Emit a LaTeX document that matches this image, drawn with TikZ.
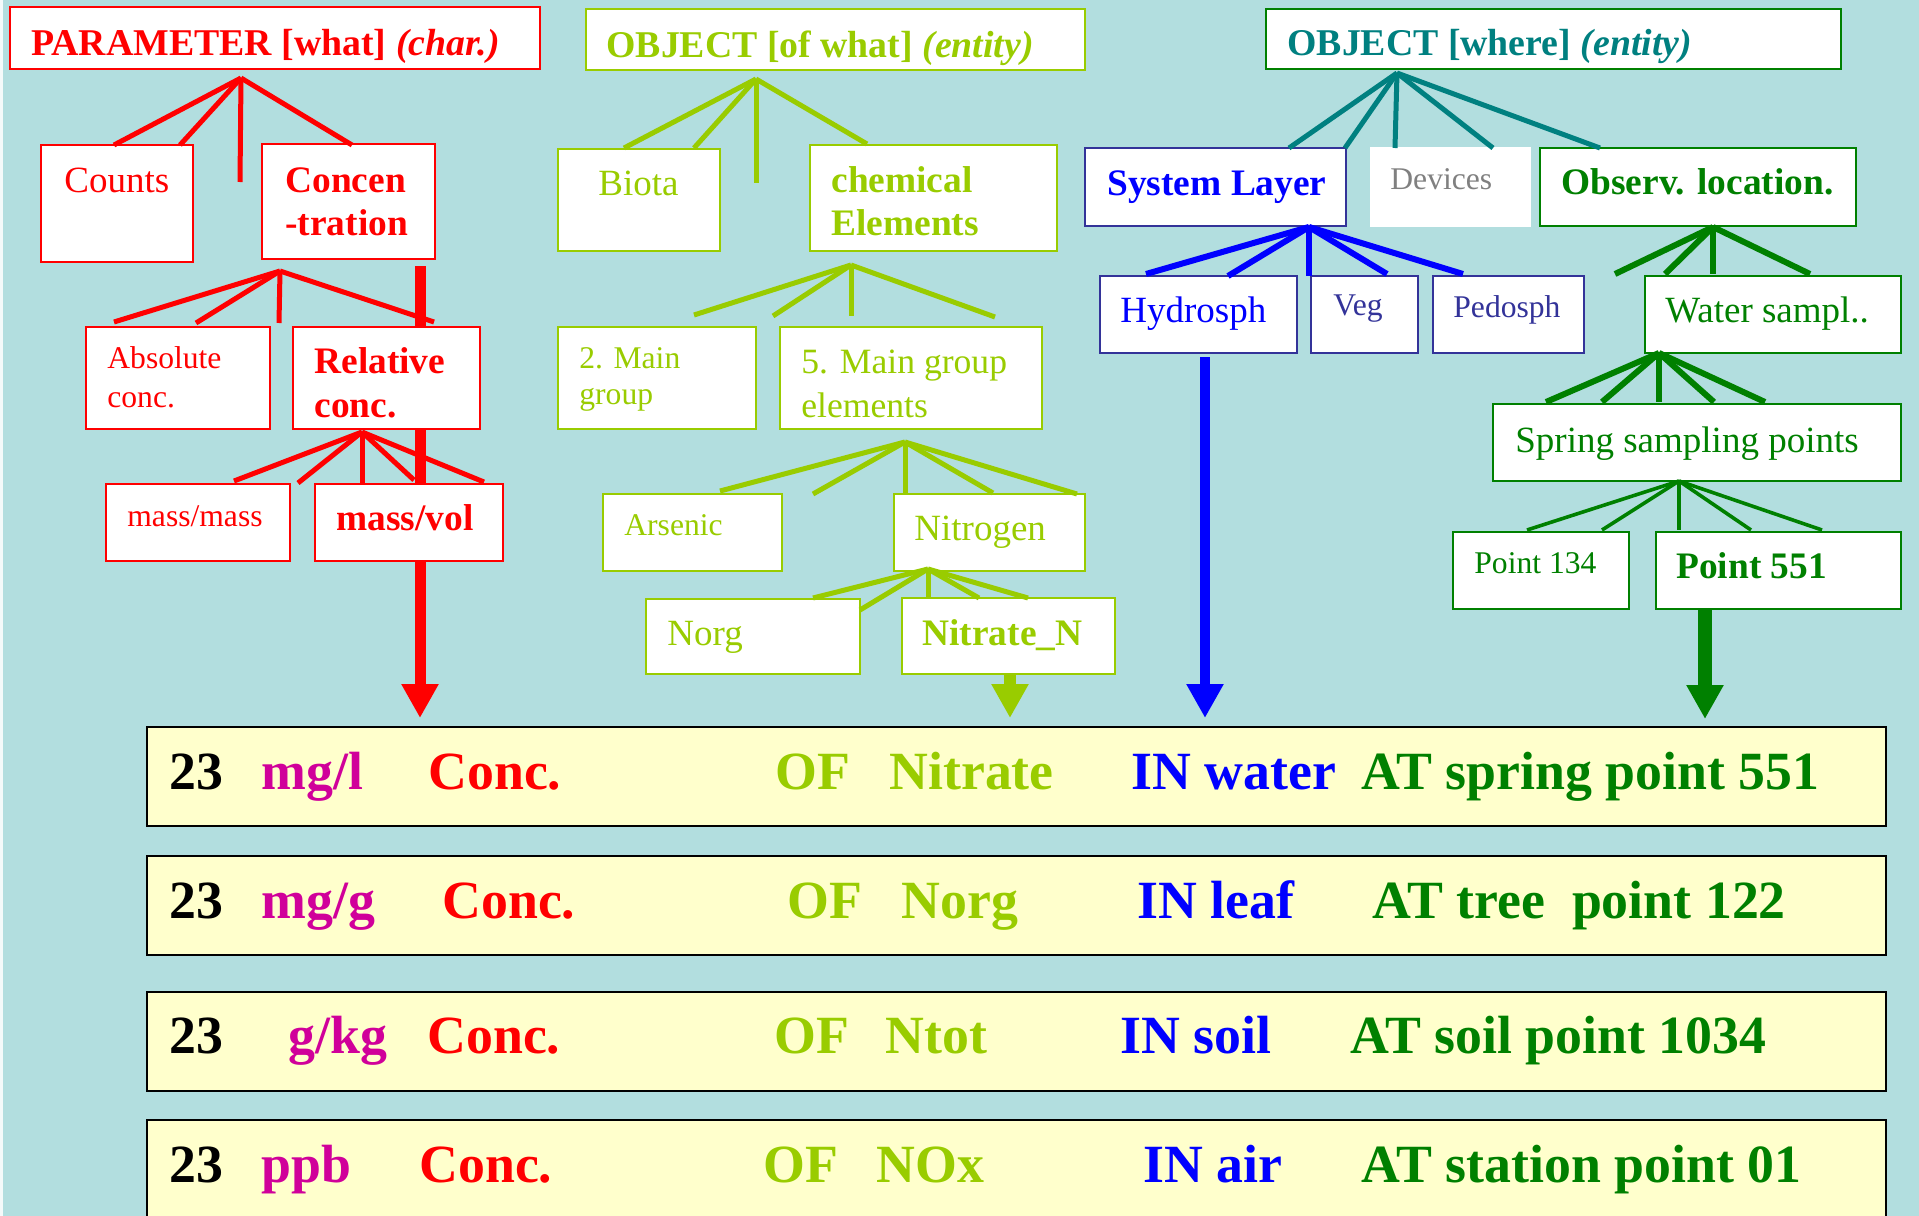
\documentclass[tikz,border=0pt]{standalone}
\usepackage{fontspec}
\setmainfont{Liberation Serif}
\usetikzlibrary{arrows.meta,fit}

\definecolor{bgcyan}{HTML}{B2DEDF}
\definecolor{lime}{HTML}{99CC00}
\definecolor{tealw}{HTML}{008080}
\definecolor{navyb}{HTML}{333399}
\definecolor{greenw}{HTML}{008000}
\definecolor{unitmag}{HTML}{D0009A}
\definecolor{rowfill}{HTML}{FFFFCC}
\definecolor{devgray}{HTML}{808080}

\tikzset{
  box/.style={draw, fill=white, line width=1pt, inner sep=0pt},
  big/.style={font=\fontsize{18.5}{22}\selectfont, anchor=base west, inner sep=0pt},
  bigb/.style={font=\fontsize{18.7}{22}\selectfont\bfseries, anchor=base west, inner sep=0pt},
  head/.style={font=\fontsize{18.9}{22}\selectfont\bfseries, anchor=base west, inner sep=0pt},
  small/.style={font=\fontsize{15.8}{19}\selectfont, anchor=base west, inner sep=0pt},
  rowtxt/.style={font=\fontsize{26.9}{30}\selectfont\bfseries, anchor=base west, inner sep=0pt},
  fanline/.style={line width=2.5pt},
  bigarrow/.style={line width=5.5pt, -{Triangle[width=17.5pt,length=17pt]}},
  rowbox/.style={draw=black, fill=rowfill, line width=1.2pt, inner sep=0pt},
}

% a fan of straight lines from one apex to a list of end points
\newcommand\fanlines[4]{%
  \coordinate (#2) at (#3);
  \foreach \ex/\ey [count=\k] in {#4} {%
    \coordinate (#2-\k) at (\ex,\ey);
    \draw[#1] (#2) -- (#2-\k);
  }%
}

\begin{document}
\begin{tikzpicture}[x=0.5pt, y=-0.5pt]
\useasboundingbox (0,0) rectangle (1919,1216);
\clip (0,0) rectangle (1919,1216);
\fill[bgcyan] (0,0) rectangle (1919,1216);
\fill[white!85!bgcyan] (0,0) rectangle (3,1216);

% ---------- long arrows down to the example rows ----------
\coordinate (ra-s) at (420,266);  \coordinate (ra-e) at (420,718);
\coordinate (ga-s) at (1010,674); \coordinate (ga-e) at (1010,718);
\coordinate (ba-s) at (1205,357); \coordinate (ba-e) at (1205,718);
\coordinate (oa-s) at (1705,609); \coordinate (oa-e) at (1705,719);
\draw[bigarrow, red] (ra-s) -- (ra-e);
\draw[bigarrow, lime, line width=6pt] (ga-s) -- (ga-e);
\draw[bigarrow, blue, line width=5pt] (ba-s) -- (ba-e);
\draw[bigarrow, greenw, line width=7pt] (oa-s) -- (oa-e);

% ---------- PARAMETER tree ----------
\node[box, draw=red, fit={(10,7) (540,69)}] (param) {};
\node[box, draw=red, fit={(41,145) (193,262)}] (counts) {};
\node[box, draw=red, fit={(262,144) (435,259)}] (concen) {};
\node[box, draw=red, fit={(86,327) (270,429)}] (absconc) {};
\node[box, draw=red, fit={(293,327) (480,429)}] (relconc) {};
\node[box, draw=red, fit={(106,484) (290,561)}] (massmass) {};
\node[box, draw=red, fit={(315,484) (503,561)}] (massvol) {};

\fanlines{fanline, red}{pa}{241,78}{114/145, 180/145, 240/182, 352/145}
\fanlines{fanline, red}{ca}{280,271}{114/322, 196/323, 279/323, 434/322}
\fanlines{fanline, red}{rc}{362,432}{234/481, 298/483, 362/483, 414/480, 484/482}

\node[head, red] (param-t) at (31,55) {PARAMETER [what] \textit{(char.)}};
\node[big, red] (counts-t) at (64,192) {Counts};
\node[bigb, red] (concen-t1) at (285,192) {Concen};
\node[bigb, red] (concen-t2) at (285,235) {-tration};
\node[small, red] (absconc-t1) at (107,368) {Absolute};
\node[small, red] (absconc-t2) at (107,407) {conc.};
\node[bigb, red] (relconc-t1) at (314,373) {Relative};
\node[bigb, red] (relconc-t2) at (314,417) {conc.};
\node[small, red] (massmass-t) at (127,526) {mass/mass};
\node[bigb, red] (massvol-t) at (336,530) {mass/vol};

% ---------- OBJECT [of what] tree ----------
\node[box, draw=lime, fit={(586,9) (1085,70)}] (objwhat) {};
\node[box, draw=lime, fit={(558,149) (720,251)}] (biota) {};
\node[box, draw=lime, fit={(810,145) (1057,251)}] (chem) {};
\node[box, draw=lime, fit={(558,327) (756,429)}] (maintwo) {};
\node[box, draw=lime, fit={(780,327) (1042,429)}] (mainfive) {};
\node[box, draw=lime, fit={(603,494) (782,571)}] (arsenic) {};
\node[box, draw=lime, fit={(894,494) (1085,571)}] (nitrogen) {};
\node[box, draw=lime, fit={(646,599) (860,674)}] (norg) {};
\node[box, draw=lime, fit={(902,598) (1115,674)}] (nitraten) {};

\fanlines{fanline, lime}{ow}{756,79}{624/148, 694/148, 756/183, 867/144}
\fanlines{fanline, lime}{ce}{851,265}{694/315, 773/316, 851/316, 995/317}
\fanlines{fanline, lime}{mf}{905,442}{720/491, 813/494, 905/493, 993/493, 1077/494}
\fanlines{fanline, lime}{ni}{928,569}{813/598, 860/610, 928/598, 979/598, 1028/598}

\node[head, lime] (objwhat-t) at (606,57) {OBJECT [of what] \textit{(entity)}};
\node[big, lime] (biota-t) at (598,195) {Biota};
\node[bigb, lime] (chem-t1) at (831,192) {chemical};
\node[bigb, lime] (chem-t2) at (831,235) {Elements};
\node[small, lime] (maintwo-t1) at (579,368) {2. Main};
\node[small, lime] (maintwo-t2) at (579,404) {group};
\node[big, lime, font=\fontsize{17.8}{21}\selectfont] (mainfive-t1) at (801,373) {5. Main group};
\node[big, lime, font=\fontsize{17.8}{21}\selectfont] (mainfive-t2) at (801,417) {elements};
\node[small, lime] (arsenic-t) at (624,535) {Arsenic};
\node[big, lime] (nitrogen-t) at (914,540) {Nitrogen};
\node[big, lime] (norg-t) at (667,645) {Norg};
\node[bigb, lime] (nitraten-t) at (922,645) {Nitrate\_N};

% ---------- OBJECT [where] tree ----------
\node[box, draw=greenw, fit={(1266,9) (1841,69)}] (objwhere) {};
\node[box, draw=navyb, fit={(1085,148) (1346,226)}] (syslayer) {};
\node[box, draw=white, fit={(1371,148) (1530,226)}] (devices) {};
\node[box, draw=greenw, fit={(1540,148) (1856,226)}] (observ) {};
\node[box, draw=navyb, fit={(1100,276) (1297,353)}] (hydro) {};
\node[box, draw=navyb, fit={(1311,276) (1418,353)}] (veg) {};
\node[box, draw=navyb, fit={(1433,276) (1584,353)}] (pedo) {};
\node[box, draw=greenw, fit={(1645,276) (1901,353)}] (water) {};
\node[box, draw=greenw, fit={(1493,404) (1901,481)}] (spring) {};
\node[box, draw=greenw, fit={(1453,532) (1629,609)}] (ptone) {};
\node[box, draw=greenw, fit={(1656,532) (1901,609)}] (pttwo) {};

\fanlines{fanline, tealw}{oh}{1397,73}{1289/148, 1345/148, 1395/148, 1493/148, 1600/148}
\fanlines{fanline, blue, line width=3pt}{sl}{1309,227}{1146/274, 1228/276, 1309/276, 1387/274, 1463/274}
\fanlines{fanline, greenw, line width=3pt}{ol}{1713,227}{1615/274, 1665/274, 1713/274, 1810/274}
\fanlines{fanline, greenw, line width=3pt}{ws}{1659,353}{1546/402, 1602/402, 1659/402, 1714/402, 1765/402}
\fanlines{fanline, greenw, line width=1.8pt}{sp}{1679,481}{1527/530, 1602/530, 1679/530, 1751/530, 1822/530}

\node[head, tealw] (objwhere-t) at (1287,55) {OBJECT [where] \textit{(entity)}};
\node[bigb, blue] (syslayer-t) at (1107,195) {System Layer};
\node[small, devgray] (devices-t) at (1390,189) {Devices};
\node[bigb, greenw] (observ-t) at (1561,194) {Observ. location.};
\node[big, blue] (hydro-t) at (1120,322) {Hydrosph};
\node[small, navyb] (veg-t) at (1333,315) {Veg};
\node[small, navyb] (pedo-t) at (1453,317) {Pedosph};
\node[big, greenw] (water-t) at (1665,322) {Water sampl..};
\node[big, greenw] (spring-t) at (1515,452) {Spring sampling points};
\node[small, greenw] (ptone-t) at (1474,573) {Point 134};
\node[bigb, greenw] (pttwo-t) at (1676,578) {Point 551};

% ---------- example rows ----------
\foreach \top/\bot [count=\r] in {727/826, 856/955, 992/1091, 1120/1240} {
  \node[rowbox, fit={(147,\top) (1886,\bot)}] (row\r) {};
}

\node[rowtxt] (r1a) at (169,789) {23};
\node[rowtxt, unitmag] (r1b) at (261,789) {mg/l};
\node[rowtxt, red] (r1c) at (428,789) {Conc.};
\node[rowtxt, lime] (r1d) at (775,789) {OF};
\node[rowtxt, lime] (r1e) at (889,789) {Nitrate};
\node[rowtxt, blue] (r1f) at (1131,789) {IN water};
\node[rowtxt, greenw] (r1g) at (1361,789) {AT spring point 551};

\node[rowtxt] (r2a) at (169,918) {23};
\node[rowtxt, unitmag] (r2b) at (261,918) {mg/g};
\node[rowtxt, red] (r2c) at (442,918) {Conc.};
\node[rowtxt, lime] (r2d) at (787,918) {OF};
\node[rowtxt, lime] (r2e) at (901,918) {Norg};
\node[rowtxt, blue] (r2f) at (1137,918) {IN leaf};
\node[rowtxt, greenw] (r2g) at (1372,918) {AT tree\ \ point 122};

\node[rowtxt] (r3a) at (169,1053) {23};
\node[rowtxt, unitmag] (r3b) at (288,1053) {g/kg};
\node[rowtxt, red] (r3c) at (427,1053) {Conc.};
\node[rowtxt, lime] (r3d) at (774,1053) {OF};
\node[rowtxt, lime] (r3e) at (885,1053) {Ntot};
\node[rowtxt, blue] (r3f) at (1120,1053) {IN soil};
\node[rowtxt, greenw] (r3g) at (1350,1053) {AT soil point 1034};

\node[rowtxt] (r4a) at (169,1182) {23};
\node[rowtxt, unitmag] (r4b) at (261,1182) {ppb};
\node[rowtxt, red] (r4c) at (419,1182) {Conc.};
\node[rowtxt, lime] (r4d) at (763,1182) {OF};
\node[rowtxt, lime] (r4e) at (876,1182) {NOx};
\node[rowtxt, blue] (r4f) at (1143,1182) {IN air};
\node[rowtxt, greenw] (r4g) at (1361,1182) {AT station point 01};
\end{tikzpicture}
\end{document}
